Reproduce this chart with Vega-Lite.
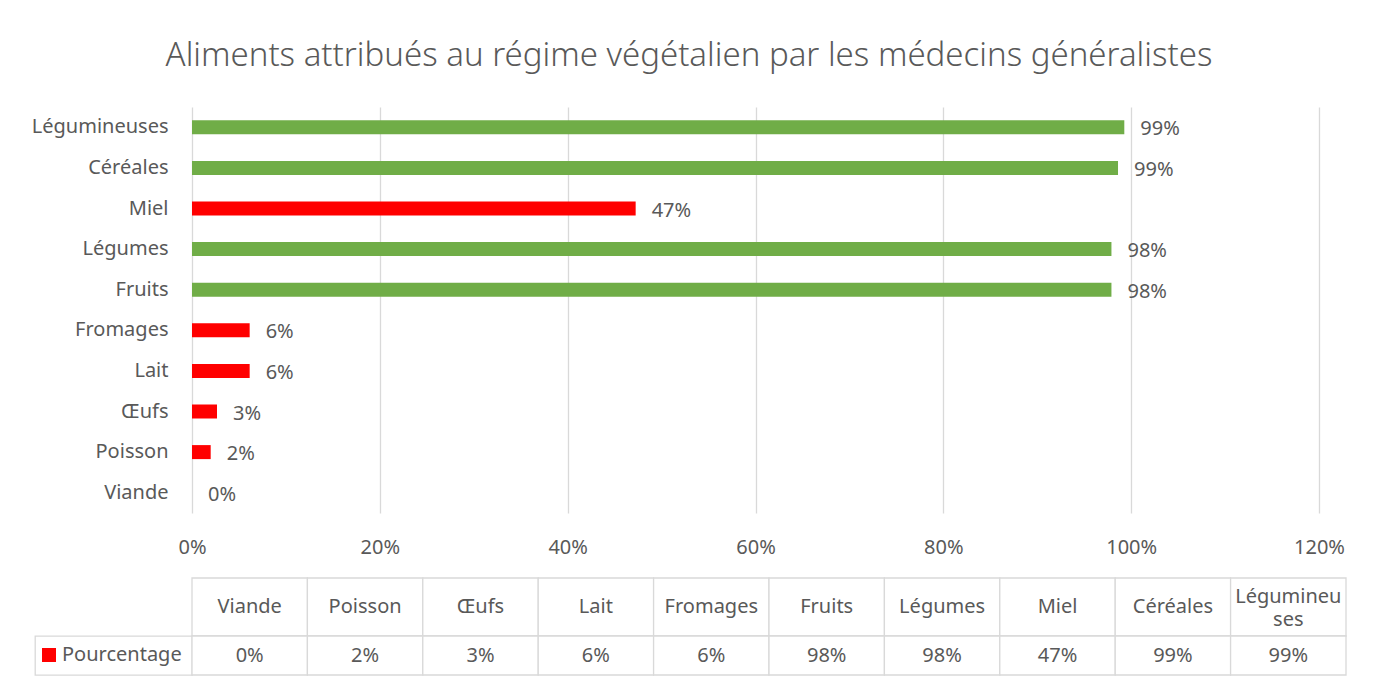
{
  "$schema": "https://vega.github.io/schema/vega-lite/v6.json",
  "background": "white",
  "padding": {"left": 31, "top": 40, "right": 5, "bottom": 5},
  "config": {
    "font": "Noto Sans",
    "view": {"stroke": null},
    "text": {"font": "Noto Sans", "fontSize": 20, "color": "#595959"}
  },
  "datasets": {
    "aliments": [
      {"aliment": "Viande", "entete": "Viande", "pct": 0.0, "groupe": "animal"},
      {"aliment": "Poisson", "entete": "Poisson", "pct": 0.0199, "groupe": "animal"},
      {"aliment": "Œufs", "entete": "Œufs", "pct": 0.0266, "groupe": "animal"},
      {"aliment": "Lait", "entete": "Lait", "pct": 0.0614, "groupe": "animal"},
      {"aliment": "Fromages", "entete": "Fromages", "pct": 0.0614, "groupe": "animal"},
      {"aliment": "Fruits", "entete": "Fruits", "pct": 0.979, "groupe": "végétal"},
      {"aliment": "Légumes", "entete": "Légumes", "pct": 0.979, "groupe": "végétal"},
      {"aliment": "Miel", "entete": "Miel", "pct": 0.4724, "groupe": "animal"},
      {"aliment": "Céréales", "entete": "Céréales", "pct": 0.986, "groupe": "végétal"},
      {"aliment": "Légumineuses", "entete": "Légumineu\nses", "pct": 0.9927, "groupe": "végétal"}
    ]
  },
  "title": {
    "text": "Aliments attribués au régime végétalien par les médecins généralistes",
    "font": "Noto Sans",
    "fontSize": 33,
    "fontWeight": 300,
    "color": "#595959",
    "anchor": "middle",
    "offset": 34
  },
  "columns": 2,
  "align": "each",
  "bounds": "flush",
  "spacing": 0,
  "resolve": {"scale": {"color": "independent"}, "legend": {"color": "independent"}},
  "concat": [
    {
      "width": 157,
      "height": 406,
      "data": {"values": [{}]},
      "mark": {"type": "text", "text": ""}
    },
    {
      "width": 1127,
      "height": 406,
      "data": {"name": "aliments"},
      "encoding": {
        "y": {
          "field": "aliment",
          "type": "nominal",
          "sort": ["Légumineuses", "Céréales", "Miel", "Légumes", "Fruits", "Fromages", "Lait", "Œufs", "Poisson", "Viande"],
          "scale": {"paddingInner": 0.655, "paddingOuter": 0.3275},
          "axis": {
            "title": null,
            "domain": false,
            "ticks": false,
            "labelPadding": 24,
            "labelFontSize": 20,
            "labelColor": "#595959",
            "labelFont": "Noto Sans",
            "labelLimit": 300
          }
        }
      },
      "layer": [
        {
          "mark": {"type": "bar"},
          "encoding": {
            "x": {
              "field": "pct",
              "type": "quantitative",
              "scale": {"domain": [0, 1.2], "nice": false},
              "axis": {
                "title": null,
                "values": [0, 0.2, 0.4, 0.6, 0.8, 1.0, 1.2],
                "format": ".0%",
                "grid": true,
                "gridColor": "#d9d9d9",
                "gridWidth": 1.3,
                "domain": false,
                "ticks": false,
                "labelPadding": 24,
                "labelFontSize": 20,
                "labelColor": "#595959",
                "labelFont": "Noto Sans",
                "labelFlush": false,
                "labelOverlap": false
              }
            },
            "color": {
              "condition": {"test": "datum.groupe === 'animal'", "value": "#FF0000"},
              "value": "#70AD47"
            }
          }
        },
        {
          "mark": {"type": "text", "align": "left", "baseline": "middle", "dx": 16, "dy": 2},
          "encoding": {
            "x": {"field": "pct", "type": "quantitative"},
            "text": {"field": "pct", "type": "quantitative", "format": ".0%"}
          }
        }
      ]
    },
    {
      "width": 157,
      "height": 65,
      "data": {"values": [{}]},
      "mark": {"type": "text", "text": ""}
    },
    {
      "width": 1154,
      "height": 65,
      "data": {"values": [{}]},
      "mark": {"type": "text", "text": ""}
    },
    {
      "width": 157,
      "height": 58,
      "data": {"values": [{}]},
      "mark": {"type": "text", "text": ""}
    },
    {
      "width": 1154,
      "height": 58,
      "data": {"name": "aliments"},
      "encoding": {
        "x": {
          "field": "aliment",
          "type": "nominal",
          "sort": ["Viande", "Poisson", "Œufs", "Lait", "Fromages", "Fruits", "Légumes", "Miel", "Céréales", "Légumineuses"],
          "scale": {"paddingInner": 0, "paddingOuter": 0},
          "axis": null
        }
      },
      "layer": [
        {"mark": {"type": "rect", "fill": "#ffffff", "stroke": "#d9d9d9", "strokeWidth": 1.3}},
        {
          "transform": [{"filter": "datum.entete === datum.aliment"}],
          "mark": {"type": "text", "baseline": "middle"},
          "encoding": {"text": {"field": "entete", "type": "nominal"}}
        },
        {
          "transform": [{"filter": "datum.entete !== datum.aliment"}],
          "mark": {"type": "text", "baseline": "middle", "lineBreak": "\n", "lineHeight": 23, "dy": -10},
          "encoding": {"text": {"field": "entete", "type": "nominal"}}
        }
      ]
    },
    {
      "width": 157,
      "height": 39,
      "view": {"stroke": "#d9d9d9", "strokeWidth": 1.3},
      "data": {"values": [{"serie": "Pourcentage"}]},
      "mark": {"type": "text", "text": ""},
      "encoding": {
        "color": {
          "field": "serie",
          "type": "nominal",
          "scale": {"range": ["#FF0000"]},
          "legend": {
            "orient": "none",
            "legendX": 4,
            "legendY": 9,
            "title": null,
            "padding": 0,
            "symbolType": "square",
            "symbolSize": 196,
            "symbolStrokeWidth": 0,
            "labelFontSize": 20,
            "labelFont": "Noto Sans",
            "labelColor": "#595959",
            "labelOffset": 3,
            "labelLimit": 300
          }
        }
      }
    },
    {
      "width": 1154,
      "height": 39,
      "data": {"name": "aliments"},
      "encoding": {
        "x": {
          "field": "aliment",
          "type": "nominal",
          "sort": ["Viande", "Poisson", "Œufs", "Lait", "Fromages", "Fruits", "Légumes", "Miel", "Céréales", "Légumineuses"],
          "scale": {"paddingInner": 0, "paddingOuter": 0},
          "axis": null
        }
      },
      "layer": [
        {"mark": {"type": "rect", "fill": "#ffffff", "stroke": "#d9d9d9", "strokeWidth": 1.3}},
        {
          "mark": {"type": "text", "baseline": "middle"},
          "encoding": {"text": {"field": "pct", "type": "quantitative", "format": ".0%"}}
        }
      ]
    }
  ]
}
